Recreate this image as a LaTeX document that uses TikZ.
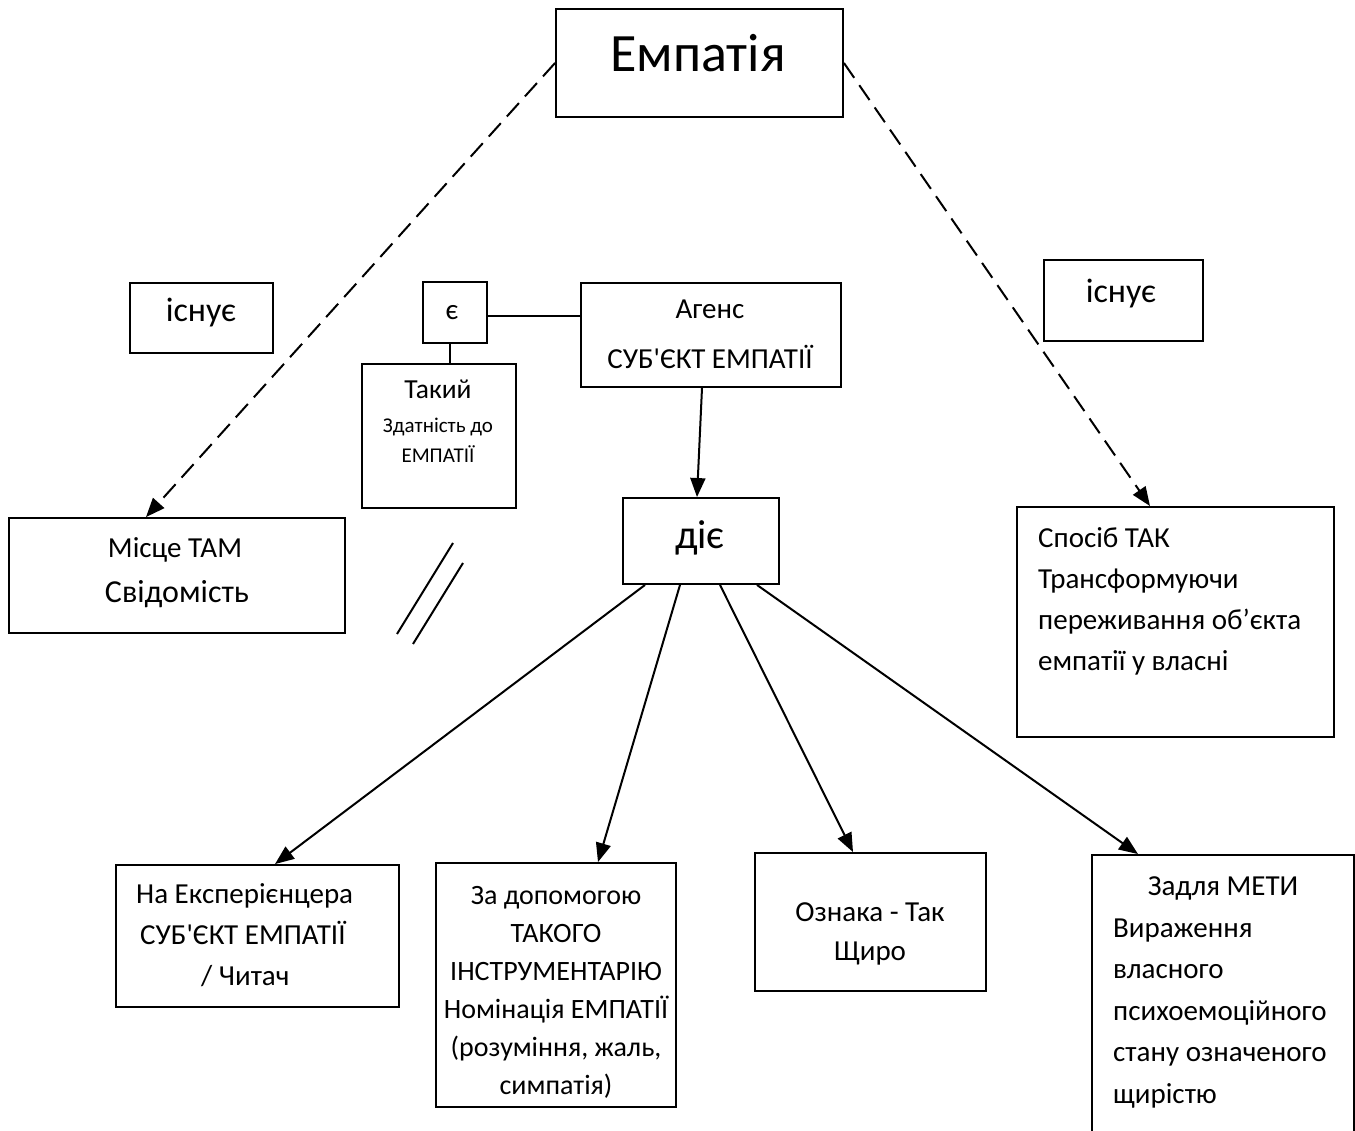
\documentclass[tikz,border=0pt]{standalone}
\usepackage{fontspec}
\setmainfont{Carlito}[Ligatures=TeXOff]
\usetikzlibrary{arrows.meta}
\begin{document}
\begin{tikzpicture}[x=1pt,y=-1pt,
  box/.style={draw, line width=1.9pt, inner sep=0pt},
  txt/.style={inner sep=0pt, font=\fontsize{29}{41}\selectfont},
  dashconn/.style={line width=2pt, dash pattern=on 18pt off 9pt, -{Triangle[length=19pt,width=15pt]}},
  conn/.style={line width=2pt, -{Triangle[length=19pt,width=15pt]}},
  plain/.style={line width=2pt}]
\useasboundingbox (0,0) rectangle (1355,1131);
\clip (0,0) rectangle (1355,1131);
% boxes
\node[box, minimum width=287pt, minimum height=108pt] (emp) at (699.5,63) {};
\node[box, minimum width=143pt, minimum height=70pt] (ex1) at (201.5,318) {};
\node[box, minimum width=64pt, minimum height=61pt] (ye) at (455,312.5) {};
\node[box, minimum width=260pt, minimum height=104pt] (ag) at (711,335) {};
\node[box, minimum width=154pt, minimum height=144pt] (tak) at (439,436) {};
\node[box, minimum width=159pt, minimum height=81pt] (ex2) at (1123.5,300.5) {};
\node[box, minimum width=336pt, minimum height=115pt] (mis) at (177,575.5) {};
\node[box, minimum width=156pt, minimum height=86pt] (die) at (701,541) {};
\node[box, minimum width=317pt, minimum height=230pt] (spo) at (1175.5,622) {};
\node[box, minimum width=283pt, minimum height=142pt] (exp) at (257.5,936) {};
\node[box, minimum width=240pt, minimum height=244pt] (zdp) at (556,985) {};
\node[box, minimum width=231pt, minimum height=138pt] (ozn) at (870.5,922) {};
\node[box, minimum width=262pt, minimum height=300pt] (zdl) at (1223,1005) {};
% texts (anchor=base of a multi-line node = baseline of its last line)
\node[txt, anchor=base, font=\fontsize{54}{60}\selectfont] (emp-t) at (698,72) {Емпатія};
\node[txt, anchor=base, font=\fontsize{34}{40}\selectfont] (ex1-t) at (201,322) {існує};
\node[txt, anchor=base] (ye-t) at (452,320) {є};
\node[txt, anchor=base, align=center, font=\fontsize{29}{50}\selectfont] (ag-t) at (710,369) {Агенс\\СУБ'ЄКТ ЕМПАТІЇ};
\node[txt, anchor=base, font=\fontsize{27.5}{30}\selectfont] (tak-t1) at (438,399) {Такий};
\node[txt, anchor=base, align=center, font=\fontsize{21}{30}\selectfont] (tak-t2) at (438,462) {Здатність до\\ЕМПАТІЇ};
\node[txt, anchor=base, font=\fontsize{34}{40}\selectfont] (ex2-t) at (1121,303) {існує};
\node[txt, anchor=base] (mis-t1) at (175,557) {Місце ТАМ};
\node[txt, anchor=base, font=\fontsize{32}{36}\selectfont] (mis-t2) at (177,602) {Свідомість};
\node[txt, anchor=base, font=\fontsize{40.5}{44}\selectfont] (die-t) at (700,548) {діє};
\node[txt, anchor=base west, align=left] (spo-t) at (1038,670) {Спосіб ТАК\\Трансформуючи\\переживання об’єкта\\емпатії у власні};
\node[txt, anchor=base west, align=left] (exp-t) at (136,985) {На Експерієнцера\\\hspace*{4pt}СУБ'ЄКТ ЕМПАТІЇ\\\hspace*{65pt}/ Читач};
\node[txt, anchor=base, align=center, font=\fontsize{28}{38}\selectfont] (zdp-t) at (556,1094) {За допомогою\\ТАКОГО\\ІНСТРУМЕНТАРІЮ\\Номінація ЕМПАТІЇ\\(розуміння, жаль,\\симпатія)};
\node[txt, anchor=base, align=center, font=\fontsize{29}{39}\selectfont] (ozn-t) at (870,960) {Ознака - Так\\Щиро};
\node[txt, anchor=base] (zdl-t1) at (1223,895) {Задля МЕТИ};
\node[txt, anchor=base west, align=left, font=\fontsize{29}{41.5}\selectfont] (zdl-t2) at (1113,1103) {Вираження\\власного\\психоемоційного\\стану означеного\\щирістю};
% connectors
\draw[dashconn] (emp.west) -- (146,0 |- mis.north);
\draw[dashconn] (emp.east) -- (1150,0 |- spo.north);
\draw[plain] (ye.east |- 0,316) -- (ag.west |- 0,316);
\draw[plain] (450,0 |- ye.south) -- (450,0 |- tak.north);
\draw[conn] (702,0 |- ag.south) -- (697,0 |- die.north);
\draw[conn] (645,0 |- die.south) -- (275,0 |- exp.north);
\draw[conn] (680,0 |- die.south) -- (598,0 |- zdp.north);
\draw[conn] (720,0 |- die.south) -- (853,0 |- ozn.north);
\draw[conn] (757,0 |- die.south) -- (1138,0 |- zdl.north);
% parallel strokes
\draw[plain] (453,543) -- (397,634);
\draw[plain] (463,563) -- (413,644);
\end{tikzpicture}
\end{document}
